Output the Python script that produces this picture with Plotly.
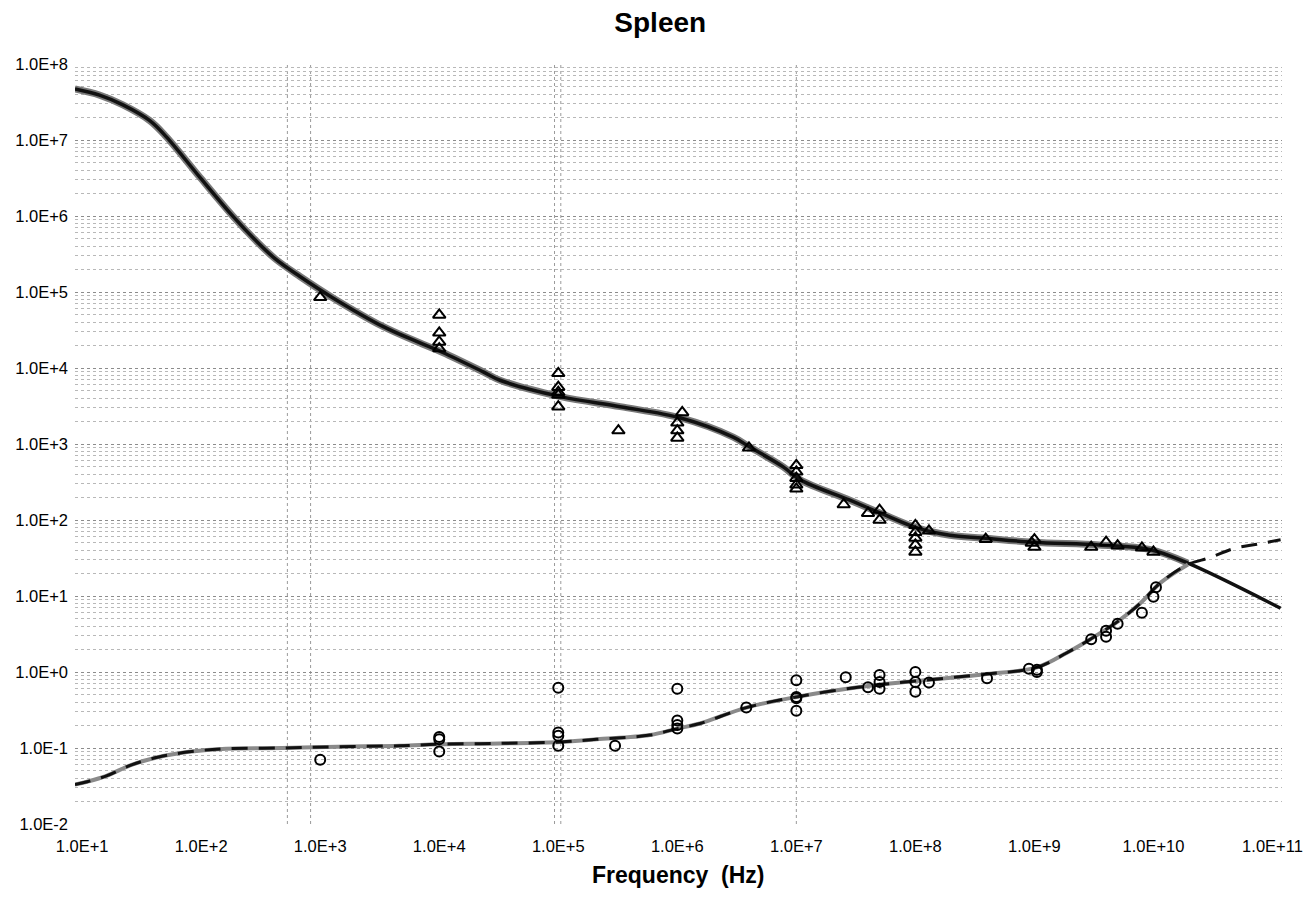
import plotly.graph_objects as go

# ---- data ----
# permittivity model curve
eps_fit_f = [8.7, 14, 22, 37, 51, 98, 186, 282, 417, 676, 1290, 3390, 6600, 10700, 23400,
             32400, 1.05e5, 3.31e5, 1.07e6, 2.95e6, 4.07e6, 7.76e6, 1.07e7, 2.82e7, 5.1e7,
             1.05e8, 1.95e8, 3.7e8, 9.8e8, 3.5e9, 9.3e9, 1.95e10]
eps_fit_v = [4.7e7, 3.9e7, 2.9e7, 1.8e7, 1.1e7, 3.2e6, 9.8e5, 4.9e5, 2.75e5, 1.6e5, 8.3e4,
             3.5e4, 2.2e4, 1.6e4, 8900, 6900, 4200, 3100, 2200, 1230, 910, 500, 340, 182, 123,
             78, 63, 58, 51, 47, 41, 27]
eps_tail_f = [1.95e10, 1.17e11]
eps_tail_v = [27, 6.9]

# conductivity model curve
sig_fit_f = [8.7, 11, 16, 26, 44, 79, 162, 480, 1400, 4700, 1e4, 3.2e4, 1.05e5, 2.1e5, 5.9e5,
             1e6, 1.55e6, 3.8e6, 1e7, 3.3e7, 1e8, 3.7e8, 1.05e9, 1.86e9, 2.95e9, 5e9, 7.8e9,
             1.15e10, 1.95e10]
sig_fit_v = [0.033, 0.036, 0.043, 0.060, 0.076, 0.089, 0.098, 0.100, 0.104, 0.107, 0.112,
             0.115, 0.12, 0.13, 0.148, 0.18, 0.21, 0.34, 0.47, 0.63, 0.76, 0.93, 1.15, 1.78,
             2.7, 4.6, 8.1, 15, 26]
sig_tail_f = [1.95e10, 3e10, 4.7e10, 7.4e10, 1.17e11]
sig_tail_v = [26, 32, 42, 48, 55]

# measured permittivity (triangles)
eps_meas_f = [1e3, 1e4, 1e4, 1e4, 1e4, 1e5, 1e5, 1e5, 1e5, 1e5, 3.2e5, 1.1e6, 1e6, 1e6, 1e6,
              4e6, 1e7, 1e7, 1e7, 1e7, 1e7, 2.5e7, 4e7, 5e7, 5e7, 1e8, 1e8, 1e8, 1e8, 1e8,
              1.3e8, 3.9e8, 9.5e8, 1e9, 1e9, 3e9, 4e9, 5e9, 8e9, 1e10]
eps_meas_v = [8.5e4, 5e4, 2.9e4, 2.2e4, 1.8e4, 8.5e3, 5.6e3, 4.8e3, 4.4e3, 3.1e3, 1.5e3, 2.6e3,
              1.9e3, 1.5e3, 1.2e3, 890, 525, 430, 355, 290, 257, 160, 123, 135, 100, 85, 69,
              58, 47, 38, 72, 56, 50, 44, 55, 44, 51, 46, 43, 38]

# measured conductivity (circles)
sig_meas_f = [1e3, 1e4, 1e4, 1e4, 1e5, 1e5, 1e5, 1e5, 3e5, 1e6, 1e6, 1e6, 1e6, 3.8e6, 1e7,
              1e7, 1e7, 1e7, 2.6e7, 4e7, 5e7, 5e7, 5e7, 1e8, 1e8, 1e8, 1.3e8, 4e8, 9e8,
              1.05e9, 1.05e9, 3e9, 4e9, 4e9, 5e9, 8e9, 1e10, 1.05e10]
sig_meas_v = [0.07, 0.14, 0.13, 0.09, 0.62, 0.16, 0.145, 0.107, 0.107, 0.60, 0.23, 0.20, 0.18,
              0.34, 0.78, 0.47, 0.45, 0.31, 0.85, 0.63, 0.91, 0.74, 0.6, 1.0, 0.74, 0.55, 0.73,
              0.83, 1.1, 1.07, 1.0, 2.7, 3.5, 2.9, 4.3, 6.0, 9.8, 13]

x_tick_vals = [1e1, 1e2, 1e3, 1e4, 1e5, 1e6, 1e7, 1e8, 1e9, 1e10, 1e11]
x_tick_text = ["1.0E+1", "1.0E+2", "1.0E+3", "1.0E+4", "1.0E+5", "1.0E+6", "1.0E+7",
               "1.0E+8", "1.0E+9", "1.0E+10", "1.0E+11"]
y_tick_vals = [1e-2, 1e-1, 1e0, 1e1, 1e2, 1e3, 1e4, 1e5, 1e6, 1e7, 1e8]
y_tick_text = ["1.0E-2", "1.0E-1", "1.0E+0", "1.0E+1", "1.0E+2", "1.0E+3", "1.0E+4",
               "1.0E+5", "1.0E+6", "1.0E+7", "1.0E+8"]
vgrid_freqs = [5.3e2, 8.3e2, 9.3e4, 1.05e5, 1e7]

FONT = "Liberation Sans, Arial, sans-serif"

fig = go.Figure()

# vertical grid remnants
for vf in vgrid_freqs:
    fig.add_shape(type="line", xref="x", yref="paper", x0=vf, x1=vf, y0=0, y1=1,
                  line=dict(color="#9a9a9a", width=1, dash="dot"), layer="below")

# permittivity curves
fig.add_trace(go.Scatter(x=eps_fit_f, y=eps_fit_v, mode="lines", line_shape="spline",
                         line=dict(color="#7a7a7a", width=7), showlegend=False))
fig.add_trace(go.Scatter(x=eps_fit_f + eps_tail_f[1:], y=eps_fit_v + eps_tail_v[1:],
                         mode="lines", line_shape="spline",
                         line=dict(color="#111111", width=3.5), showlegend=False))
# conductivity curves
fig.add_trace(go.Scatter(x=sig_fit_f, y=sig_fit_v, mode="lines", line_shape="spline",
                         line=dict(color="#8a8a8a", width=4), showlegend=False))
fig.add_trace(go.Scatter(x=sig_fit_f + sig_tail_f[1:], y=sig_fit_v + sig_tail_v[1:],
                         mode="lines", line_shape="spline",
                         line=dict(color="#111111", width=3, dash="16px,11px"),
                         showlegend=False))

# measured points
fig.add_trace(go.Scatter(x=eps_meas_f, y=eps_meas_v, mode="markers",
                         marker=dict(symbol="triangle-up-open", size=11,
                                     color="#000000", line=dict(width=2)),
                         showlegend=False))
fig.add_trace(go.Scatter(x=sig_meas_f, y=sig_meas_v, mode="markers",
                         marker=dict(symbol="circle-open", size=10,
                                     color="#000000", line=dict(width=2)),
                         showlegend=False))

fig.add_annotation(text="<b>Frequency  (Hz)</b>", xref="paper", yref="paper",
                   x=0.5, y=-0.067, xanchor="center", yanchor="middle", showarrow=False,
                   font=dict(family=FONT, size=23, color="#000000"))

fig.update_layout(
    width=1315, height=897,
    margin=dict(l=67, r=41, t=56, b=81),
    paper_bgcolor="white", plot_bgcolor="white",
    title=dict(text="<b>Spleen</b>", x=0.496, xanchor="center", xref="container",
               y=1 - 14 / 897, yanchor="middle", yref="container",
               font=dict(family=FONT, size=28, color="#000000")),
    font=dict(family=FONT, size=16, color="#000000"),
)
fig.update_xaxes(type="log", range=[0.94, 11.08], tickvals=x_tick_vals, ticktext=x_tick_text,
                 showgrid=False, zeroline=False, showline=False, ticks="", automargin=False,
                 ticklabelstandoff=10, tickfont=dict(size=16.5))
fig.update_yaxes(type="log", range=[-2, 8], tickvals=y_tick_vals, ticktext=y_tick_text,
                 showgrid=True, gridcolor="#8c8c8c", gridwidth=1, griddash="dot",
                 minor=dict(showgrid=True, gridcolor="#b8b8b8", gridwidth=1, griddash="dot",
                            dtick="D1"),
                 zeroline=False, showline=False, ticks="", ticklabelstandoff=6,
                 automargin=False, tickfont=dict(size=16.5))

fig.write_html("out.html")
